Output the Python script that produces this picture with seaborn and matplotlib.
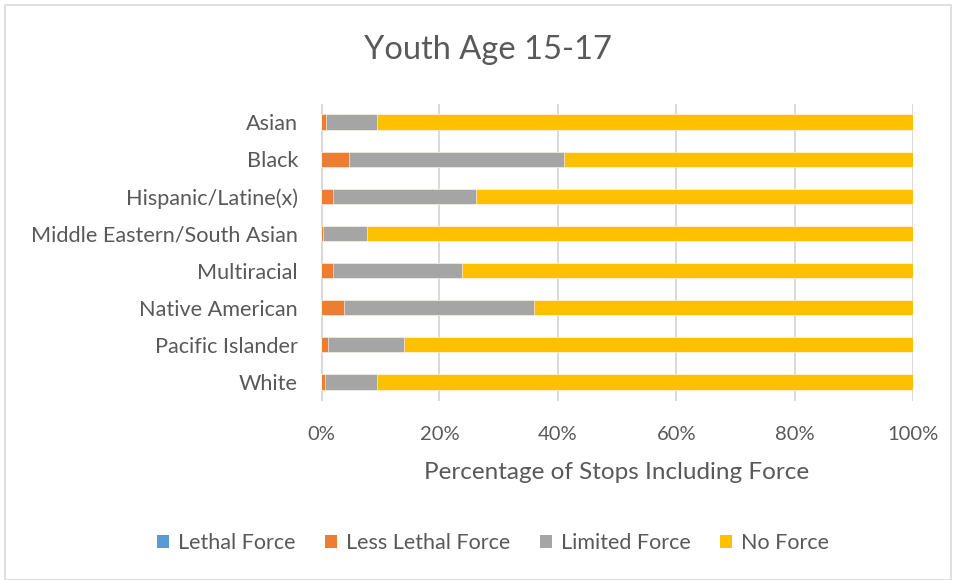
import matplotlib
matplotlib.use("Agg")
import matplotlib.pyplot as plt
from matplotlib.patches import Rectangle, Patch
import seaborn as sns
import pandas as pd
import numpy as np

# Share of stops (%) by level of force, youth aged 15-17
groups = ["Asian", "Black", "Hispanic/Latine(x)", "Middle Eastern/South Asian",
          "Multiracial", "Native American", "Pacific Islander", "White"]
lethal_force = [0.0, 0.0, 0.0, 0.0, 0.0, 0.0, 0.0, 0.0]
less_lethal_force = [0.8, 4.8, 2.1, 0.4, 2.1, 3.9, 1.1, 0.6]
limited_force = [8.7, 36.3, 24.0, 7.3, 21.8, 32.0, 13.0, 8.9]
no_force = [90.5, 58.9, 73.9, 92.3, 76.1, 64.1, 85.9, 90.5]

series_names = ["Lethal Force", "Less Lethal Force", "Limited Force", "No Force"]
series_colors = ["#5B9BD5", "#ED7D31", "#A5A5A5", "#FFC000"]
xticks = [0, 20, 40, 60, 80, 100]
xtick_labels = ["0%", "20%", "40%", "60%", "80%", "100%"]

TEXT = "#595959"
GRID = "#D9D9D9"

sns.set_theme(style="white")
plt.rcParams["font.family"] = ["Lato", "DejaVu Sans"]

df = pd.DataFrame({
    "group": groups,
    "Lethal Force": lethal_force,
    "Less Lethal Force": less_lethal_force,
    "Limited Force": limited_force,
    "No Force": no_force,
})
# running totals so each segment can be layered from the widest down
cum = df[series_names].cumsum(axis=1)

fig = plt.figure(figsize=(9.58, 5.8), dpi=100)
ax = fig.add_axes([321 / 958, 1 - 400.5 / 580, (913 - 321) / 958, (400.5 - 103.5) / 580])

for name, color in reversed(list(zip(series_names, series_colors))):
    sns.barplot(x=cum[name], y=df["group"], orient="h", color=color, saturation=1,
                width=0.41, edgecolor="white", linewidth=0.4, ax=ax, zorder=3)

ax.set_xlim(0, 100)
ax.set_xticks(xticks)
ax.set_xticklabels(xtick_labels)
ax.grid(axis="x", color=GRID, linewidth=1.4, zorder=0)
ax.grid(axis="y", visible=False)
for s in ax.spines.values():
    s.set_visible(False)
ax.axvline(0, color=GRID, linewidth=2.2, zorder=2)

ax.tick_params(axis="y", length=0, pad=16.5, labelsize=15.6, labelcolor=TEXT)
ax.tick_params(axis="x", length=0, pad=18, labelsize=14.5, labelcolor=TEXT)
ax.set_ylabel("")
ax.set_xlabel("Percentage of Stops Including Force", fontsize=17.5, color=TEXT, labelpad=14)

fig.text(488 / 958, 1 - 50 / 580, "Youth Age 15-17", ha="center", va="center",
         fontsize=23.5, color=TEXT)

handles = [Patch(facecolor=c, edgecolor="none") for c in series_colors]
fig.legend(handles, series_names, loc="center", bbox_to_anchor=(493 / 958, 1 - 543 / 580),
           ncol=4, frameon=False, fontsize=15.5, labelcolor=TEXT,
           handlelength=0.55, handleheight=0.55, handletextpad=0.4, columnspacing=1.4)

# chart frame
fig.patches.append(Rectangle((5 / 958, 0), 946 / 958, 575 / 580, transform=fig.transFigure,
                             fill=False, edgecolor=GRID, linewidth=1.2))

fig.savefig("out.png", dpi=100)
